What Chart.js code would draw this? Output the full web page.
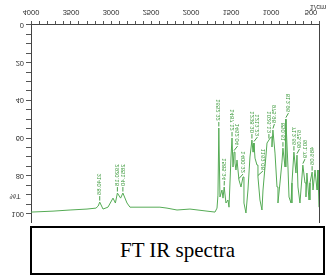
<!DOCTYPE html>
<html>
<head>
<meta charset="utf-8">
<script src="https://cdn.jsdelivr.net/npm/chart.js@4"></script>
<style>
  body { margin: 0; background: #fff; width: 331px; height: 278px; position: relative; overflow: hidden; }
  /* the reference spectrum is printed mirrored top-to-bottom */
  #spec { position: absolute; left: 0; top: 0; transform: scaleY(-1); }
  #caption {
    position: absolute; left: 30px; top: 226px; width: 295px; height: 49px;
    box-sizing: border-box; border: 2px solid #000;
    font-family: "Liberation Serif", serif; font-size: 21px; color: #000;
    display: flex; align-items: center; justify-content: center;
  }
</style>
</head>
<body>
<canvas id="spec" width="331" height="224"></canvas>
<div id="caption">FT IR spectra</div>
<script>
// wavenumber (1/cm) and %T
const waveNumbers = [4000, 3725, 3512, 3300, 3188, 3160, 3140.86, 3100, 3038, 2975, 2945, 2920.18, 2880, 2851.40, 2800, 2763,
  2550, 2388, 2300, 2175, 2013, 1800, 1700, 1675, 1663, 1652.32, 1638, 1613, 1600, 1585.34, 1563, 1538, 1525,
  1500, 1487.12, 1475, 1462.04, 1450, 1438, 1425, 1400.32, 1375, 1350, 1338, 1313, 1288, 1263, 1238.30, 1225,
  1213.23, 1200, 1175, 1163.08, 1138, 1113, 1100, 1075, 1050, 1026.13, 1000, 988, 975.98, 950, 925, 913, 888,
  863, 850.61, 825, 813.96, 788, 775, 750, 738, 713.66, 688, 675.09, 663, 638, 613, 601.79, 575, 563, 551, 525,
  513, 486.06, 475, 450, 425, 413, 400];
const transmittance = [99.2, 98.7, 98.1, 97.6, 97.1, 96.0, 93.9, 97.6, 96.6, 91.8, 94.4, 89.1, 91.8, 89.1, 94.4, 96.6,
  96.6, 96.6, 97.1, 98.1, 97.6, 98.7, 99.2, 97.1, 90.2, 54.6, 91.2, 87.5, 91.8, 85.9, 94.4, 92.8, 96.6,
  70.0, 59.9, 75.3, 67.4, 73.2, 76.9, 71.6, 82.2, 85.9, 80.6, 94.4, 99.7, 87.5, 70.0, 61.0, 67.4,
  62.6, 70.6, 74.3, 80.6, 92.8, 98.1, 87.5, 75.3, 62.6, 61.0, 59.4, 64.7, 55.7, 67.9, 85.9, 94.4, 83.8,
  72.7, 65.3, 75.3, 49.9, 75.3, 91.2, 94.4, 83.8, 67.4, 78.5, 69.0, 85.9, 94.4, 80.6, 74.3, 83.8, 91.2, 78.5, 92.8,
  83.8, 78.0, 87.5, 76.9, 87.5, 76.9, 96.6];

// labelled peaks
const peakWn = [3140.86, 2920.18, 2851.40, 1652.32, 1585.34, 1487.12, 1462.04, 1400.32, 1238.30, 1213.23, 1163.08,
  1026.13, 975.98, 850.61, 813.96, 713.66, 675.09, 601.79, 486.06];

const xTickLabels = [4000, 3500, 3000, 2500, 2000, 1500, 1000, 500];
const yTickLabels = [0, 20, 40, 60, 80, 100];

const points = waveNumbers.map((w, i) => ({ x: w, y: transmittance[i] }));
const tickFont = { family: '"Liberation Sans", Arial, sans-serif', size: 7.5 };

function stepTicks(from, to, step) {
  const out = [];
  for (let v = from; v <= to; v += step) out.push({ value: v });
  return out;
}

function noPad(s) {
  s.paddingTop = 0; s.paddingBottom = 0; s.paddingLeft = 0; s.paddingRight = 0;
}

const extras = {
  id: 'extras',
  afterDatasetsDraw(chart) {
    const ctx = chart.ctx;
    const area = chart.chartArea;
    const xs = chart.scales.x, ys = chart.scales.y;
    ctx.save();
    // right frame line
    ctx.strokeStyle = '#444';
    ctx.lineWidth = 1;
    ctx.beginPath();
    ctx.moveTo(area.right + 0.5, area.top);
    ctx.lineTo(area.right + 0.5, area.bottom);
    ctx.stroke();

    // peak labels
    ctx.strokeStyle = '#4aa04a';
    ctx.fillStyle = '#3d9a3d';
    ctx.font = '6px "Liberation Sans", Arial, sans-serif';
    let prev = -100;
    peakWn.forEach(w => {
      const t = transmittance[waveNumbers.indexOf(w)];
      const px = xs.getPixelForValue(w);
      const py = ys.getPixelForValue(t);
      const lx = Math.max(px, prev + 5.5);
      prev = lx;
      ctx.beginPath();
      ctx.moveTo(px, py + 1.5);
      ctx.lineTo(lx, py + 6);
      ctx.stroke();
      ctx.save();
      ctx.translate(lx, py + 7);
      ctx.rotate(-Math.PI / 2);
      ctx.textAlign = 'right';
      ctx.textBaseline = 'middle';
      ctx.fillText(w.toFixed(2), 0, 0);
      ctx.restore();
    });

    // axis titles
    ctx.fillStyle = '#333';
    ctx.font = '7.5px "Liberation Sans", Arial, sans-serif';
    ctx.textAlign = 'center';
    ctx.textBaseline = 'middle';
    ctx.fillText('%T', 15, 28);
    ctx.fillText('1/cm', 318, 217);
    ctx.restore();
  }
};

new Chart(document.getElementById('spec'), {
  type: 'line',
  data: {
    datasets: [{
      data: points,
      borderColor: '#55ab55',
      borderWidth: 1,
      pointRadius: 0,
      tension: 0,
      fill: false
    }]
  },
  options: {
    responsive: false,
    animation: false,
    layout: { padding: { top: 1, right: 12, left: 0, bottom: 0 } },
    plugins: { legend: { display: false }, tooltip: { enabled: false } },
    scales: {
      x: {
        type: 'linear',
        reverse: true,
        min: 400,
        max: 4000,
        afterBuildTicks: s => { s.ticks = stepTicks(400, 4000, 100); },
        afterFit: s => { s.height = 25; noPad(s); },
        border: { display: true, color: '#444' },
        grid: { drawOnChartArea: false, drawTicks: true, tickLength: 4, color: '#555' },
        ticks: {
          autoSkip: false,
          maxRotation: 0,
          minRotation: 0,
          padding: 4,
          color: '#333',
          font: tickFont,
          callback: v => xTickLabels.includes(v) ? String(v) : ''
        }
      },
      y: {
        min: 0,
        max: 105,
        afterBuildTicks: s => { s.ticks = stepTicks(0, 100, 5); },
        afterFit: s => { s.width = 31; noPad(s); },
        border: { display: true, color: '#444' },
        grid: { drawOnChartArea: false, drawTicks: true, tickLength: 5, color: '#555' },
        ticks: {
          autoSkip: false,
          padding: 2,
          color: '#333',
          font: tickFont,
          callback: v => yTickLabels.includes(v) ? String(v) : ''
        }
      }
    }
  },
  plugins: [extras]
});
</script>
</body>
</html>
